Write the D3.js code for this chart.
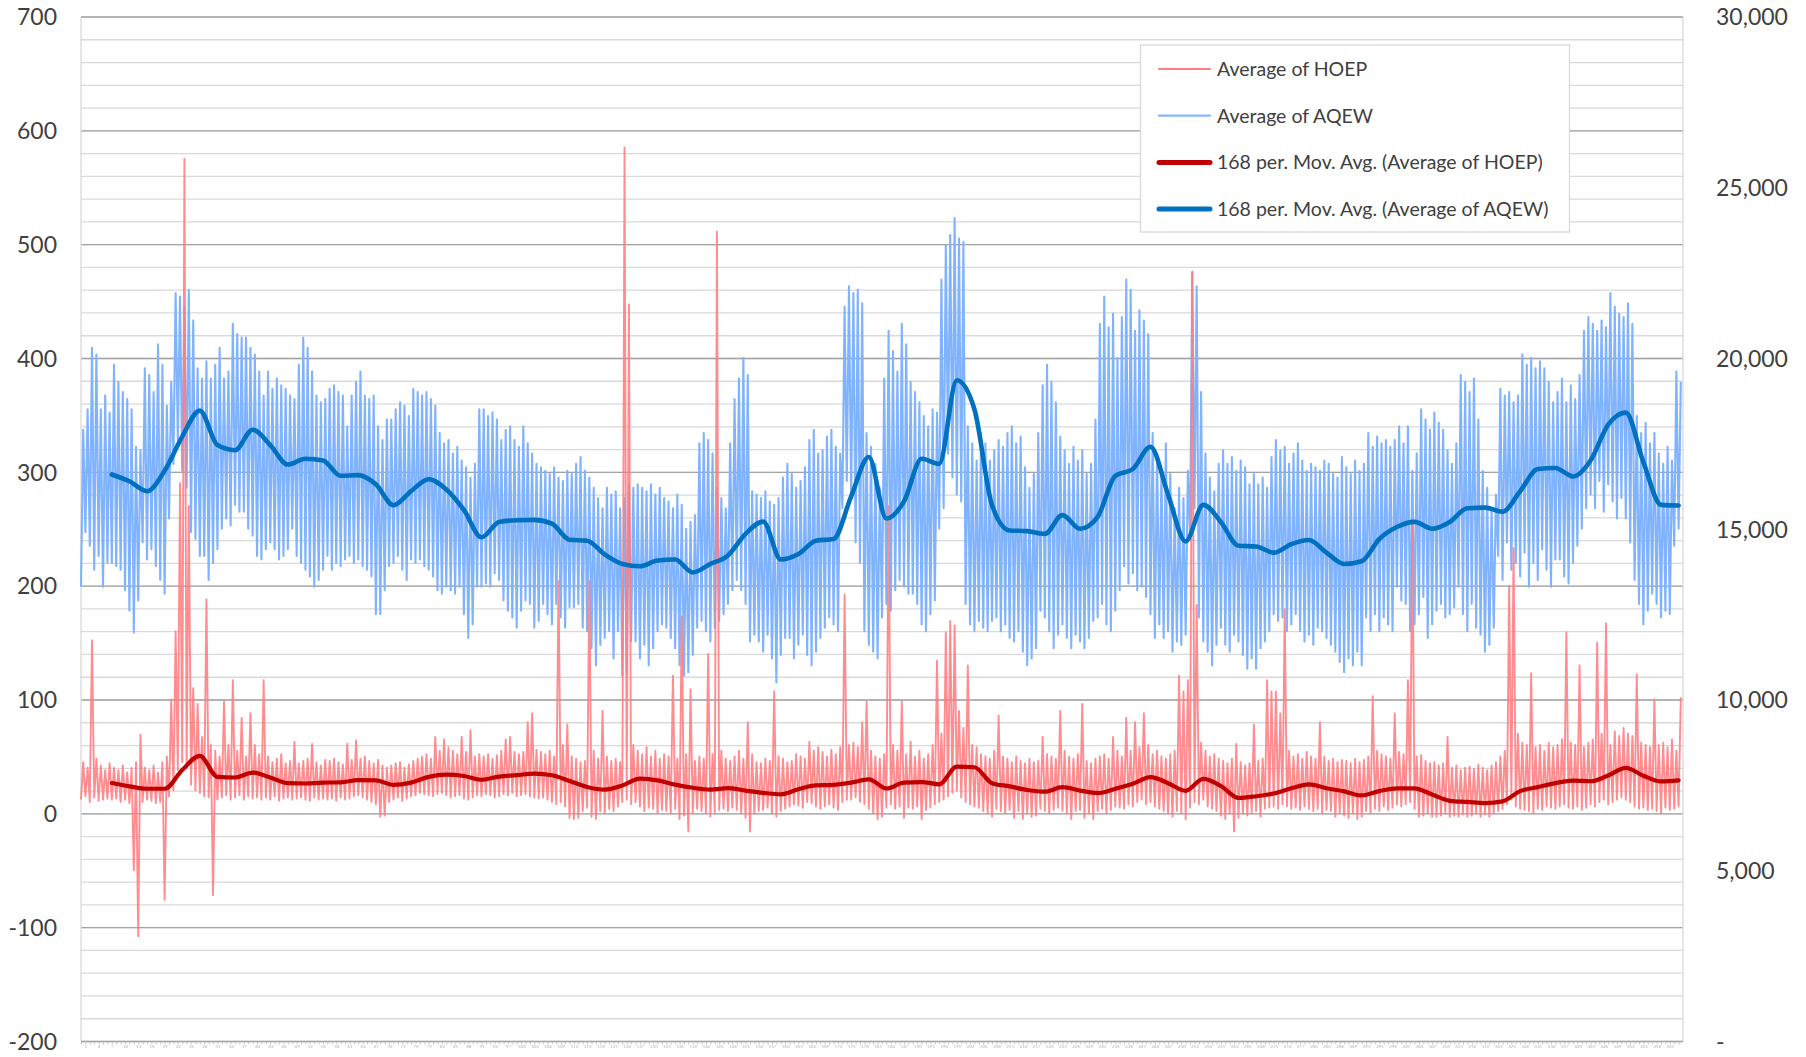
<!DOCTYPE html>
<html>
<head>
<meta charset="utf-8">
<script src="https://cdn.jsdelivr.net/npm/d3@7"></script>
<style>
  body { margin: 0; background: #fff; }
  text { font-family: Lato, "Open Sans", sans-serif; }
</style>
</head>
<body>
<svg id="chart"></svg>
<script>
// daily peak / trough of the hourly AQEW series (MW), 52 weeks
var aqewHigh = [
  17900,18500,20300,20100,18500,18900,18400, 19800,19300,19000,18800,18500,17400,17300,
  19700,19500,19000,20400,19800,18600,19300, 21900,21800,21500,22000,21100,19700,19400,
  19900,19400,19800,20300,19400,19600,21000, 20700,20600,20600,20300,20100,19600,18900,
  19600,19100,19400,19200,19100,18900,18800, 19800,20600,20300,19600,18900,18700,18800,
  19100,19200,19000,18900,18000,18900,19300, 19600,18900,18800,18900,18000,17600,18200,
  18200,18500,18700,18600,18300,19100,19000, 18900,19000,18800,18600,17800,17500,17600,
  17200,17400,17000,16800,16500,16900,18500, 18500,18300,18400,18200,17600,17900,18000,
  17600,17400,18000,17500,17200,16900,16800, 16700,16600,16800,16500,16400,16700,16600,
  16900,17100,16700,16500,16200,15900,15600, 16200,16000,16100,15600,15900,16300,16200,
  16300,16200,16100,16300,16000,16200,15900, 15800,15600,16000,15700,15000,15200,15400,
  17500,17800,17600,17200,16200,15900,15600, 17500,18800,19400,20000,19500,16100,16000,
  15900,16100,15800,15700,15900,16500,16900, 16600,16200,16400,16800,17600,17900,17200,
  17300,17700,17900,17400,17200,21500,22100, 21900,22000,21600,17800,17400,16900,16200,
  19400,20800,20200,19600,21000,20400,19300, 19000,18700,18300,18000,18500,18400,22300,
  23300,23600,24100,23500,23400,18000,17500, 17000,17800,17500,17000,17300,17600,17400,
  17800,18000,17500,17700,16800,16200,16600, 17800,19200,19800,19300,18700,17700,17300,
  16900,17400,17000,17300,16600,16900,18200, 21000,21800,20900,21300,20000,21200,22300,
  22000,20800,21400,21100,20700,17800,17200, 16700,17500,16600,15600,16200,15900,16700,
  22500,22100,19000,17200,16500,16100,16900, 17300,16900,17100,16700,17000,16800,16300,
  16600,16300,16500,16200,17100,17600,17300, 17400,16900,17200,17500,17000,16700,16900,
  16800,16700,17000,16900,16600,16500,17100, 16800,16600,17000,16700,16900,17800,17400,
  17700,17500,17600,17400,17600,18000,17500, 18000,16700,17200,18500,18200,17900,18400,
  18100,17900,17300,16900,17500,19500,19300, 19000,19400,18200,16700,16200,15600,16000,
  19100,18900,19000,18700,18900,20100,19800, 20000,19700,19900,19700,19300,18700,19000,
  19400,18700,19200,18800,19500,20800,21200, 21000,20800,21100,20900,21900,21500,21300,
  21200,21600,21000,18300,17800,18100,17500, 17800,17200,16900,17400,17000,19600,19300
];
var aqewLow = [
  13300,14900,14500,13800,14200,13300,14000, 14000,13900,13800,13200,12600,11960,12900,
  14600,14100,14400,13900,13500,13100,15300, 16900,17600,16700,16200,14900,14700,14200,
  14200,13500,14000,14400,15000,15300,15100, 15700,15500,15500,15000,14800,14200,14100,
  14400,14600,14400,14100,14200,14400,15000, 14200,14000,13800,13600,13300,13500,13800,
  14200,13800,14000,13900,14100,14200,14000, 14100,13900,13800,13600,12500,12500,13200,
  13900,14000,14200,13800,13500,14100,14000, 14100,13900,13800,13600,13200,13100,13300,
  13200,13100,13300,12500,11800,12200,13300, 13300,13400,13300,13700,13500,12900,12600,
  12400,12100,12600,12900,12800,12100,12300, 12800,12500,12200,12800,12400,12100,12700,
  12700,12800,12100,12000,11500,11000,11600, 11800,12000,11200,12000,10700,10800,11700,
  11700,11200,11600,11000,11500,12000,12200, 12100,11800,11500,11000,10700,10800,11300,
  12100,12300,12000,11700,12100,12300,12500, 12800,13200,13500,13200,12800,11700,11900,
  11700,11400,11900,11200,10500,11300,11800, 11800,11200,11600,11900,11300,11000,11400,
  11800,12100,12400,12200,12000,15600,16400, 15900,14600,14000,12000,11600,11400,11200,
  12400,12800,12600,13200,13500,13300,13100, 13100,12800,12200,12000,12500,12900,15000,
  15600,17200,16500,16000,15800,12800,12200, 12000,12300,12100,12000,12300,12400,12000,
  12200,11800,11700,12000,11400,11000,11200, 11500,12600,12400,12000,11500,11900,12200,
  11800,11500,11900,11700,11500,11800,12300, 12400,12800,12200,12000,12600,13200,13900,
  13400,13700,13200,13300,13000,12500,11800, 12200,11800,12000,11400,11700,11600,11900,
  14800,15600,12400,11700,11400,11000,11600, 12100,11600,11400,11900,11700,11300,10900,
  11200,10900,11500,11700,12000,12500,12300, 12400,12000,12200,12500,12000,11700,11900,
  11600,12100,12000,11800,11600,11400,11100, 10800,11200,11000,11400,11000,12400,12000,
  12500,12000,12400,12200,12000,13300,12900, 12800,12000,12200,12500,13000,11800,12200,
  12600,12800,12400,12500,12700,13300,12500, 12000,12800,12100,11900,11400,11600,12100,
  14200,13500,14600,13800,14000,13600,14300, 13300,14000,13500,14400,13800,13300,14100,
  14100,13600,13400,14000,14500,15000,15600, 16000,15600,16400,15500,16300,15800,15300,
  15900,15300,14600,13500,12800,12200,12600, 13100,12800,12400,12600,12500,14500,15000
];
// daily peak / trough of the hourly HOEP series ($/MWh)
var hoepHigh = [
  45,40,152,48,42,38,44,  40,38,42,36,40,45,69,
  40,38,42,36,45,50,100,  160,290,575,270,110,96,67,
  188,60,55,50,98,60,117,  55,84,50,88,60,52,117,
  50,45,48,52,44,46,63,  44,46,48,61,45,42,47,
  46,48,45,43,61,47,64,  48,50,46,44,47,42,40,
  42,44,45,40,43,46,48,  50,52,48,67,55,65,58,
  55,52,67,54,73,50,52,  50,52,48,51,55,65,67,
  54,52,54,80,88,56,54,  52,55,50,204,60,78,50,
  48,45,46,204,55,48,90,  50,46,48,45,585,447,60,
  55,52,58,50,55,48,52,  50,121,48,173,52,109,46,
  50,48,140,52,511,55,48,  46,50,55,48,80,52,45,
  44,48,46,107,50,48,45,  46,52,50,48,63,55,58,
  54,50,56,52,58,192,60,  62,58,80,98,55,50,48,
  52,270,60,55,98,52,63,  50,55,48,52,60,134,70,
  159,169,165,90,75,130,60,  58,52,50,48,55,86,50,
  48,45,50,46,44,48,45,  46,67,52,50,48,90,55,
  50,48,52,96,46,44,48,  50,52,48,67,55,50,84,
  55,80,58,88,60,52,55,  50,48,52,55,121,107,117,
  476,183,62,55,50,52,48,  46,44,48,61,45,42,44,
  78,46,48,117,107,107,88,  179,55,50,52,48,54,50,
  48,80,50,46,48,45,47,  46,44,48,45,47,50,103,
  55,52,50,48,88,54,52,  117,258,50,51,46,44,45,
  42,44,67,40,42,38,40,  41,39,43,40,38,42,45,
  50,55,200,233,70,62,60,  123,58,60,55,62,58,60,
  65,159,62,60,130,58,62,  65,150,70,167,60,72,68,
  75,70,68,122,62,60,58,  100,60,62,58,65,55,102
];
var hoepLow = [
  12,15,10,14,11,12,13,  12,13,10,12,9,-50,-108,
  10,12,11,9,10,-76,15,  20,38,45,40,25,20,18,
  15,14,-72,12,14,16,12,  14,16,12,15,13,14,12,
  14,12,15,11,13,14,12,  13,14,12,11,14,12,13,
  12,13,11,14,12,13,15,  16,14,12,10,8,-3,-2,
  10,12,14,11,13,15,16,  18,17,16,15,17,18,16,
  14,15,16,13,12,14,16,  15,17,16,14,15,17,16,
  18,15,16,17,15,14,13,  14,12,10,8,10,6,-4,
  -5,-4,2,5,-3,-5,2,  0,4,2,6,10,12,8,
  10,6,2,5,4,0,3,  2,0,4,-5,-2,-16,0,
  4,2,0,-3,1,3,4,  2,5,3,0,-4,-16,0,
  2,3,5,0,-3,2,4,  6,8,7,5,10,9,6,
  4,6,8,5,3,10,12,  12,14,10,8,4,0,-5,
  -3,5,8,4,6,-4,5,  4,6,-5,3,5,8,10,
  12,15,18,20,14,10,8,  6,5,2,0,-3,4,2,
  0,3,-4,2,-5,0,-3,  -2,4,2,0,3,5,2,
  0,-5,2,3,-4,0,-5,  2,4,0,3,6,5,4,
  8,6,10,12,8,10,6,  4,2,0,-3,2,0,-5,
  5,10,8,12,6,4,2,  -2,-5,0,-16,-4,0,-2,
  0,2,-3,4,5,6,4,  8,6,4,5,3,6,4,
  2,4,0,3,2,-3,0,  -2,-4,0,-5,-3,2,0,
  4,2,6,3,5,8,6,  8,10,4,-3,-2,0,-3,
  -3,-2,0,-3,-2,-3,-1,  -3,-2,0,-3,-1,-3,0,
  2,4,8,12,6,4,3,  2,0,4,3,6,5,4,
  6,8,5,4,6,3,5,  8,6,10,12,8,10,12,
  14,12,10,6,4,5,3,  4,2,0,5,3,4,6
];
// 168-hour moving averages, read every 4th day from day 7
var maDays = d3.range(7, 364, 4);
var maAqew = [
  16590,16390,16100,16700,17700,18460,17450,17300,17900,17450,
  16880,17050,17000,16550,16570,16300,15690,16100,16450,16150,
  15550,14750,15200,15250,15260,15150,14680,14650,14250,13970,
  13900,14070,14100,13720,13970,14220,14850,15210,14100,14260,
  14650,14700,15950,17100,15300,15800,17050,16900,19350,18500,
  15690,14950,14930,14850,15400,15000,15350,16550,16750,17400,
  16000,14630,15700,15200,14500,14480,14300,14550,14670,14300,
  13970,14050,14700,15050,15200,15000,15200,15600,15620,15500,
  16100,16750,16780,16530,17000,18050,18400,16950,15700,15680
];
var maHoep = [
  26.6,23.7,21.6,21.6,38,50.5,32,31.5,35.8,31.5,
  26.5,26.2,27,27.2,29.1,29,25,27,32,34,
  32.8,29.5,32.3,33.5,34.9,33.5,28.5,23.2,20.8,24.5,
  30.5,29,25.2,22.5,20.8,22.2,20,18,16.7,21.2,
  24.5,25,27,29.8,21.8,27,27.5,25.5,41,40.5,
  26.5,23.7,20.5,19,23,20,17.8,21.6,26,31.8,
  26.5,19.8,30.3,24,13.5,15,17.4,22,25.5,22,
  19.3,15.7,19.5,22,22,16.5,11,10,9,10.5,
  19.5,23,26.5,28.8,28.2,33.2,40,33,28,29
];
var leftTicks = [-200, -100, 0, 100, 200, 300, 400, 500, 600, 700];
var rightTicks = [0, 5000, 10000, 15000, 20000, 25000, 30000];
var legendNames = ["Average of HOEP", "Average of AQEW",
  "168 per. Mov. Avg. (Average of HOEP)", "168 per. Mov. Avg. (Average of AQEW)"];

var width = 1806, height = 1057;
var plotL = 81, plotR = 1683, plotT = 16.5, plotB = 1041;

var svg = d3.select('#chart')
  .attr('width', width)
  .attr('height', height)
  .attr('viewBox', '0 0 ' + width + ' ' + height);

var x = d3.scaleLinear().domain([0, 364]).range([plotL, plotR]);
var yL = d3.scaleLinear().domain([-200, 700]).range([plotB, plotT]);
var yR = d3.scaleLinear().domain([0, 30000]).range([plotB, plotT]);

// minor and major gridlines
svg.append('g')
  .attr('transform', 'translate(' + plotL + ',0)')
  .call(d3.axisLeft(yL).tickValues(d3.range(-200, 701, 20)).tickSize(-(plotR - plotL)).tickFormat(''))
  .call(function (g) { g.select('.domain').remove(); })
  .call(function (g) { g.selectAll('line').attr('stroke', '#d9d9d9').attr('stroke-width', 1.3); });

svg.append('g')
  .attr('transform', 'translate(' + plotL + ',0)')
  .call(d3.axisLeft(yL).tickValues(leftTicks).tickSize(-(plotR - plotL)).tickFormat(''))
  .call(function (g) { g.select('.domain').remove(); })
  .call(function (g) { g.selectAll('line').attr('stroke', '#a3a3a3').attr('stroke-width', 1.4); });

svg.append('line')
  .attr('x1', plotL).attr('x2', plotL).attr('y1', plotT).attr('y2', plotB)
  .attr('stroke', '#d9d9d9').attr('stroke-width', 1.3);
svg.append('line')
  .attr('x1', plotR).attr('x2', plotR).attr('y1', plotT).attr('y2', plotB)
  .attr('stroke', '#d9d9d9').attr('stroke-width', 1.3);

// category axis: dense ticks and tiny labels
var days = d3.range(0, 364);
svg.append('g')
  .attr('transform', 'translate(0,' + (plotB + 1) + ')')
  .call(d3.axisBottom(x).tickValues(days).tickSize(2.5).tickFormat(''))
  .call(function (g) { g.select('.domain').remove(); })
  .call(function (g) { g.selectAll('line').attr('stroke', '#c8c8c8'); });
svg.append('g')
  .attr('transform', 'translate(0,' + (plotB + 1) + ')')
  .call(d3.axisBottom(x).tickValues(d3.range(1, 364, 3)).tickSize(0).tickPadding(3).tickFormat(d3.format('d')))
  .call(function (g) { g.select('.domain').remove(); })
  .call(function (g) {
    g.selectAll('text').attr('fill', '#b5b5b5').style('font-size', '4.5px');
  });

// raw hourly series, drawn as daily trough -> peak
var aqewPts = days.map(function (d, i) { return [[d, aqewLow[i]], [d + 0.5, aqewHigh[i]]]; }).flat();
var hoepPts = days.map(function (d, i) { return [[d, hoepLow[i]], [d + 0.5, hoepHigh[i]]]; }).flat();

var rawAqew = d3.line()
  .defined(function (p) { return p[1] != null; })
  .x(function (p) { return x(p[0]); })
  .y(function (p) { return yR(p[1]); });
var rawHoep = d3.line()
  .defined(function (p) { return p[1] != null; })
  .x(function (p) { return x(p[0]); })
  .y(function (p) { return yL(p[1]); });

svg.append('path')
  .attr('d', rawAqew(aqewPts))
  .attr('fill', 'none')
  .attr('stroke', '#80b3fd')
  .attr('stroke-width', 2.1)
  .attr('stroke-linejoin', 'round');

svg.append('path')
  .attr('d', rawHoep(hoepPts))
  .attr('fill', 'none')
  .attr('stroke', '#ff7c80')
  .attr('stroke-opacity', 0.88)
  .attr('stroke-width', 1.9)
  .attr('stroke-linejoin', 'round');

// moving averages
var maLineL = d3.line()
  .curve(d3.curveMonotoneX)
  .x(function (d, i) { return x(maDays[i]); })
  .y(function (d) { return yL(d); });
var maLineR = d3.line()
  .curve(d3.curveMonotoneX)
  .x(function (d, i) { return x(maDays[i]); })
  .y(function (d) { return yR(d); });

svg.append('path')
  .attr('d', maLineL(maHoep))
  .attr('fill', 'none')
  .attr('stroke', '#c00000')
  .attr('stroke-width', 4.2)
  .attr('stroke-linecap', 'round')
  .attr('stroke-linejoin', 'round');

svg.append('path')
  .attr('d', maLineR(maAqew))
  .attr('fill', 'none')
  .attr('stroke', '#0070c0')
  .attr('stroke-width', 4.6)
  .attr('stroke-linecap', 'round')
  .attr('stroke-linejoin', 'round');

// axis labels (plain hyphen for negatives, as in the source)
svg.append('g')
  .attr('transform', 'translate(' + plotL + ',0)')
  .call(d3.axisLeft(yL).tickValues(leftTicks).tickSize(0).tickPadding(24)
    .tickFormat(function (v) { return String(v); }))
  .call(function (g) { g.select('.domain').remove(); })
  .call(function (g) {
    g.selectAll('text').attr('fill', '#404040').attr('dy', '0.36em').style('font-size', '23px');
  });

svg.append('g')
  .attr('transform', 'translate(' + plotR + ',0)')
  .call(d3.axisRight(yR).tickValues(rightTicks).tickSize(0).tickPadding(33)
    .tickFormat(function (v) { return v === 0 ? '-' : d3.format(',')(v); }))
  .call(function (g) { g.select('.domain').remove(); })
  .call(function (g) {
    g.selectAll('text').attr('fill', '#404040').attr('dy', '0.36em').style('font-size', '23px');
  });

// legend
var legendStyles = [
  { color: '#ff7c80', w: 2.2 },
  { color: '#86b6fb', w: 2.2 },
  { color: '#c00000', w: 5 },
  { color: '#0070c0', w: 5 }
];
var legend = svg.append('g');
legend.append('rect')
  .attr('x', 1140.5).attr('y', 45).attr('width', 429).attr('height', 187)
  .attr('fill', '#fff').attr('stroke', '#d9d9d9').attr('stroke-width', 1.3);

var rows = legend.selectAll('g.row')
  .data(legendNames)
  .enter()
  .append('g')
  .attr('class', 'row')
  .attr('transform', function (d, i) { return 'translate(0,' + (69 + i * 46.7) + ')'; });

rows.append('line')
  .attr('x1', 1159).attr('x2', 1210)
  .attr('stroke', function (d, i) { return legendStyles[i].color; })
  .attr('stroke-width', function (d, i) { return legendStyles[i].w; })
  .attr('stroke-linecap', 'round');

rows.append('text')
  .attr('x', 1217)
  .attr('dy', '0.36em')
  .attr('fill', '#404040')
  .style('font-size', '19.5px')
  .text(function (d) { return d; });
</script>
</body>
</html>
